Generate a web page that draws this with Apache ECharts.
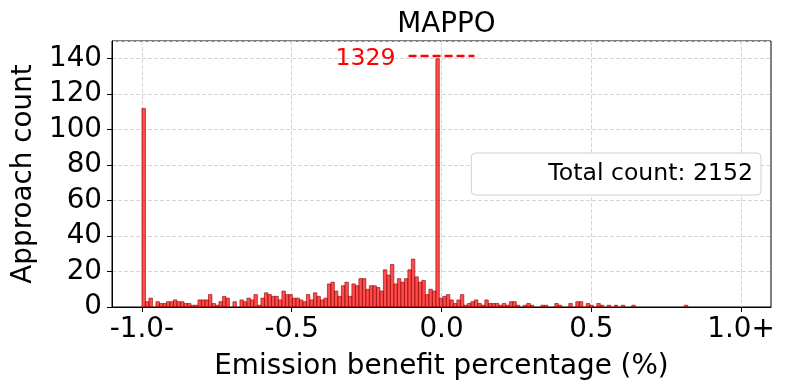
<!DOCTYPE html>
<html>
<head>
<meta charset="utf-8">
<script src="https://cdn.jsdelivr.net/npm/echarts@6/dist/echarts.min.js"></script>
<style>
  html, body { margin: 0; padding: 0; background: #fff; }
  #chart { width: 788px; height: 390px; }
</style>
</head>
<body>
<div id="chart"></div>
<script>
// histogram bins: left edge of first bin and bin width (data units)
var binStart = -1.0;
var binWidth = 0.01168;
// approach count per bin
var counts = [
  112,
  3, 5, 0, 3, 2, 2, 3, 3, 4, 3,
  3, 2, 2, 1, 1, 4, 4, 4, 7, 2,
  1, 3, 6, 5, 0, 3, 0, 4, 3, 5,
  4, 7, 1, 5, 8, 7, 6, 6, 4, 9,
  7, 7, 5, 5, 4, 3, 7, 4, 8, 6,
  4, 5, 13, 14, 9, 6, 12, 14, 6, 13,
  12, 16, 16, 10, 12, 12, 11, 9, 21, 18,
  24, 13, 16, 14, 16, 21, 27, 17, 14, 15,
  7, 10, 9, 1329,
  5, 6, 7, 4, 2, 4, 7, 1, 2, 3,
  4, 2, 1, 4, 2, 2, 2, 1, 2, 1,
  3, 3, 1, 0, 1, 2, 1, 0, 0, 1,
  1, 0, 0, 2, 1, 0, 0, 2, 0, 3,
  3, 0, 2, 1, 0, 2, 1, 0, 1, 0,
  1, 0, 1, 0, 0, 1, 0, 0, 0, 0,
  0, 0, 0, 0, 0, 0, 0, 0, 0, 0, 1
];
var displayCap = 140;          // bars taller than this are cut and annotated
var xTickValues = [-1.0, -0.5, 0.0, 0.5, 1.0];
var xTickLabels = ['-1.0-', '-0.5', '0.0', '0.5', '1.0+'];
var overflowLine = [[-0.11, 141.6], [0.11, 141.6]];
var totalLabel = 'Total count: 2152';

var font = 'DejaVu Sans';
var spikeIdx = counts.indexOf(Math.max.apply(null, counts));

var binData = counts.map(function (c, i) {
  var x0 = binStart + i * binWidth;
  return [x0, x0 + binWidth, Math.min(c, displayCap), c];
}).filter(function (d) { return d[3] > 0; });

var gridLine = { show: true, lineStyle: { color: '#d5d5d5', type: [4, 2], width: 1 } };

var chart = echarts.init(document.getElementById('chart'), null, { renderer: 'canvas' });
chart.setOption({
  animation: false,
  textStyle: { fontFamily: font },
  title: {
    text: 'MAPPO',
    left: 441.5,
    textAlign: 'center',
    top: 6,
    textStyle: { fontFamily: font, fontSize: 27.8, fontWeight: 'normal', color: '#000' }
  },
  grid: {
    left: 112, right: 17, top: 41, bottom: 83,
    show: true, borderColor: '#000', borderWidth: 1, backgroundColor: 'transparent'
  },
  legend: {
    data: [{ name: totalLabel, icon: 'none' }],
    selectedMode: false,
    right: 27,
    top: 153,
    itemWidth: 64,
    itemHeight: 14,
    padding: [9, 8, 9, 8],
    backgroundColor: '#fff',
    borderColor: '#d0d0d0',
    borderWidth: 1,
    borderRadius: 4,
    textStyle: { fontFamily: font, fontSize: 23.6, color: '#000' }
  },
  xAxis: {
    type: 'value',
    min: -1.1,
    max: 1.1,
    name: 'Emission benefit percentage (%)',
    nameLocation: 'middle',
    nameGap: 46,
    nameTextStyle: { fontFamily: font, fontSize: 27.8, color: '#000' },
    axisLine: { show: true, onZero: false, lineStyle: { color: '#000', width: 1 } },
    axisTick: { show: true, length: 5, lineStyle: { color: '#000' }, customValues: xTickValues },
    axisLabel: {
      customValues: xTickValues,
      margin: 9,
      fontSize: 27.8,
      color: '#000',
      fontFamily: font,
      formatter: function (v) {
        var i = xTickValues.indexOf(v);
        return i >= 0 ? xTickLabels[i] : '';
      }
    },
    splitLine: gridLine
  },
  yAxis: {
    type: 'value',
    min: 0,
    max: 150,
    interval: 20,
    name: 'Approach count',
    nameLocation: 'middle',
    nameGap: 66,
    nameTextStyle: { fontFamily: font, fontSize: 27.8, color: '#000' },
    axisLine: { show: true, onZero: false, lineStyle: { color: '#000', width: 1 } },
    axisTick: { show: true, length: 5, lineStyle: { color: '#000' } },
    axisLabel: { showMaxLabel: false, margin: 10, fontSize: 27.8, color: '#000', fontFamily: font },
    splitLine: gridLine
  },
  series: [
    {
      name: totalLabel,
      type: 'custom',
      data: binData,
      encode: { x: [0, 1], y: 2 },
      renderItem: function (params, api) {
        var top = api.coord([api.value(0), api.value(2)]);
        var base = api.coord([api.value(1), 0]);
        return {
          type: 'rect',
          shape: { x: top[0], y: top[1], width: base[0] - top[0], height: base[1] - top[1] },
          style: { fill: 'rgba(255,0,0,0.7)', stroke: 'rgba(139,0,0,0.75)', lineWidth: 0.8 }
        };
      }
    },
    {
      name: 'overflow',
      type: 'line',
      data: overflowLine,
      symbol: 'none',
      lineStyle: { color: '#ff0000', width: 2.5, type: [8, 4] },
      silent: true
    },
    {
      name: 'overflowLabel',
      type: 'scatter',
      data: [overflowLine[0]],
      symbol: 'circle',
      symbolSize: 2,
      itemStyle: { color: 'rgba(0,0,0,0)', opacity: 1 },
      label: {
        show: true,
        position: 'left',
        distance: 12,
        offset: [0, 3],
        fontSize: 23.6,
        color: '#ff0000',
        opacity: 1,
        fontFamily: font,
        formatter: function () { return String(counts[spikeIdx]); }
      },
      silent: true
    }
  ]
});
</script>
</body>
</html>
